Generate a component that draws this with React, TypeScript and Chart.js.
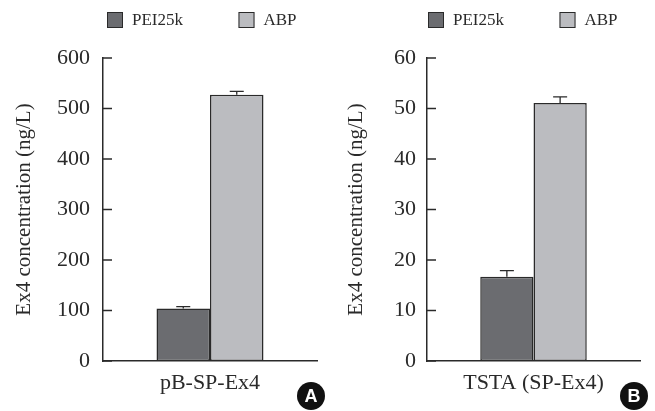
import React, { useEffect, useRef } from "react";
import { Chart, registerables } from "chart.js";

Chart.register(...registerables);

// ---- data ----
const seriesLabels = ["PEI25k", "ABP"];
const seriesColors = ["#6b6c70", "#bbbcc0"];

const categoriesA = ["pB-SP-Ex4"];
const pei25kA = [104];
const abpA = [527];
const pei25kErrA = [3.5];
const abpErrA = [7];
const yTicksA = [0, 100, 200, 300, 400, 500, 600];

const categoriesB = ["TSTA (SP-Ex4)"];
const pei25kB = [16.7];
const abpB = [51.1];
const pei25kErrB = [1.2];
const abpErrB = [1.2];
const yTicksB = [0, 10, 20, 30, 40, 50, 60];

const yAxisTitle = "Ex4 concentration (ng/L)";
const panelLetters = ["A", "B"];

// ---- style ----
const INK = "#2a2a2a";
const SERIF = "'Liberation Serif', 'Times New Roman', serif";

const decorPlugin = {
  id: "decor",
  afterDatasetsDraw(chart: any, _args: any, opts: any) {
    const ctx = chart.ctx;
    const { left } = chart.chartArea;
    const y = chart.scales.y;
    ctx.save();
    ctx.strokeStyle = INK;
    ctx.lineWidth = 1.5;
    // inward tick marks
    y.ticks.forEach((_t: any, i: number) => {
      const py = y.getPixelForTick(i);
      ctx.beginPath();
      ctx.moveTo(left, py);
      ctx.lineTo(left + 9, py);
      ctx.stroke();
    });
    // error bars (upper only)
    ctx.lineWidth = 1.3;
    chart.data.datasets.forEach((ds: any, di: number) => {
      const meta = chart.getDatasetMeta(di);
      meta.data.forEach((bar: any, i: number) => {
        const v = ds.data[i];
        const e = ds.errors[i];
        const yTop = y.getPixelForValue(v + e);
        ctx.beginPath();
        ctx.moveTo(bar.x, bar.y);
        ctx.lineTo(bar.x, yTop);
        ctx.moveTo(bar.x - 7, yTop);
        ctx.lineTo(bar.x + 7, yTop);
        ctx.stroke();
      });
    });
    ctx.restore();
  },
  afterDraw(chart: any, _args: any, opts: any) {
    const ctx = chart.ctx;
    const { left, right } = chart.chartArea;
    ctx.save();
    // legend
    chart.data.datasets.forEach((ds: any, di: number) => {
      const x = left + opts.legendOffset + di * 131.5;
      ctx.fillStyle = ds.backgroundColor;
      ctx.fillRect(x, 12, 16, 16);
      ctx.strokeStyle = INK;
      ctx.lineWidth = 1;
      ctx.strokeRect(x + 0.5, 12.5, 15, 15);
      ctx.fillStyle = INK;
      ctx.font = `17px ${SERIF}`;
      ctx.textBaseline = "middle";
      ctx.textAlign = "left";
      ctx.fillText(ds.label, x + 25, 20.5);
    });
    // panel letter
    const cx = right - 6;
    const cy = 396;
    ctx.beginPath();
    ctx.arc(cx, cy, 14, 0, Math.PI * 2);
    ctx.fillStyle = "#111111";
    ctx.fill();
    ctx.fillStyle = "#ffffff";
    ctx.font = `bold 18px 'Liberation Sans', Arial, sans-serif`;
    ctx.textAlign = "center";
    ctx.textBaseline = "middle";
    ctx.fillText(opts.letter, cx, cy + 1);
    ctx.restore();
  },
};

type PanelProps = {
  categories: string[];
  pei: number[];
  abp: number[];
  peiErr: number[];
  abpErr: number[];
  yTicks: number[];
  letter: string;
  left: number;
  width: number;
  yAxisWidth: number;
  rightPad: number;
  tickPad: number;
  titlePad: number;
  legendOffset: number;
};

function Panel(p: PanelProps) {
  const ref = useRef<HTMLCanvasElement | null>(null);
  useEffect(() => {
    if (!ref.current) return;
    const chart = new Chart(ref.current, {
      type: "bar",
      data: {
        labels: p.categories,
        datasets: [
          {
            label: seriesLabels[0],
            data: p.pei,
            errors: p.peiErr,
            backgroundColor: seriesColors[0],
            borderColor: INK,
            borderWidth: 1.5,
            borderSkipped: false,
            categoryPercentage: 0.5,
            barPercentage: 1.0,
          } as any,
          {
            label: seriesLabels[1],
            data: p.abp,
            errors: p.abpErr,
            backgroundColor: seriesColors[1],
            borderColor: INK,
            borderWidth: 1.5,
            borderSkipped: false,
            categoryPercentage: 0.5,
            barPercentage: 1.0,
          } as any,
        ],
      },
      options: {
        responsive: false,
        animation: false,
        events: [],
        layout: { padding: { top: 58, right: p.rightPad, left: 0, bottom: 0 } },
        scales: {
          x: {
            grid: { display: false, drawTicks: false },
            border: { display: true, color: INK, width: 1.5 },
            ticks: { color: INK, font: { family: SERIF, size: 22 }, padding: 9 },
            afterFit: (s: any) => {
              s.height = 50;
            },
          },
          y: {
            min: p.yTicks[0],
            max: p.yTicks[p.yTicks.length - 1],
            grid: { display: false, drawTicks: false },
            border: { display: true, color: INK, width: 1.5 },
            afterBuildTicks: (s: any) => {
              s.ticks = p.yTicks.map((v) => ({ value: v }));
            },
            ticks: { color: INK, font: { family: SERIF, size: 22 }, padding: p.tickPad },
            title: {
              display: true,
              text: yAxisTitle,
              color: INK,
              font: { family: SERIF, size: 21 },
              padding: { top: p.titlePad, bottom: 0 },
            },
            afterFit: (s: any) => {
              s.width = p.yAxisWidth;
            },
          },
        },
        plugins: {
          legend: { display: false },
          tooltip: { enabled: false },
          decor: { letter: p.letter, legendOffset: p.legendOffset },
        } as any,
      },
      plugins: [decorPlugin],
    });
    return () => chart.destroy();
  }, []);
  return (
    <canvas
      ref={ref}
      width={p.width}
      height={411}
      style={{ position: "absolute", left: p.left, top: 0, width: p.width, height: 411 }}
    />
  );
}

export default function App() {
  return (
    <div style={{ position: "absolute", left: 0, top: 0, width: 655, height: 411, background: "#fff" }}>
      <Panel
        categories={categoriesA}
        pei={pei25kA}
        abp={abpA}
        peiErr={pei25kErrA}
        abpErr={abpErrA}
        yTicks={yTicksA}
        letter={panelLetters[0]}
        left={0}
        width={327}
        yAxisWidth={103}
        rightPad={10}
        tickPad={13}
        titlePad={12}
        legendOffset={4}
      />
      <Panel
        categories={categoriesB}
        pei={pei25kB}
        abp={abpB}
        peiErr={pei25kErrB}
        abpErr={abpErrB}
        yTicks={yTicksB}
        letter={panelLetters[1]}
        left={327}
        width={328}
        yAxisWidth={100}
        rightPad={15}
        tickPad={11}
        titlePad={17}
        legendOffset={1}
      />
    </div>
  );
}
